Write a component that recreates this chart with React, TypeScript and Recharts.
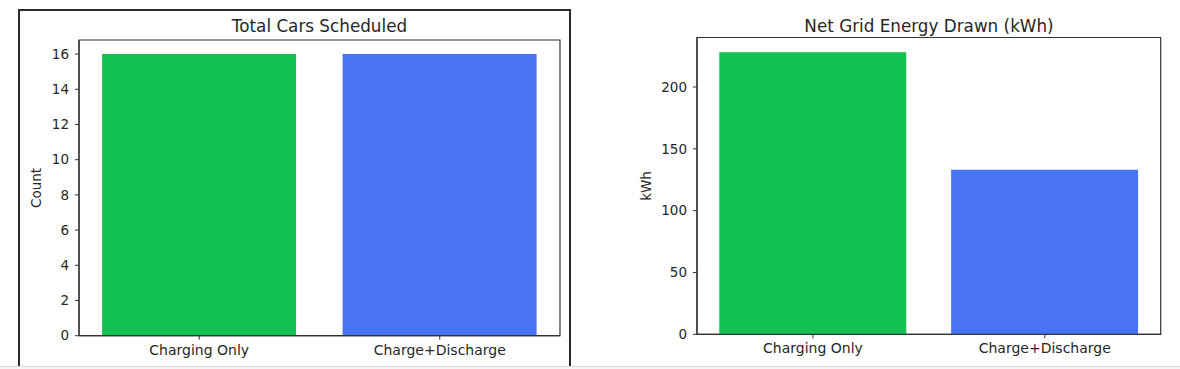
import React from 'react';
import { BarChart, Bar, XAxis, YAxis, Cell, ReferenceArea } from 'recharts';

const categories = ['Charging Only', 'Charge+Discharge'];
const carsScheduled = [16, 16];
const netGridEnergy = [228, 133];
const countTicks = [0, 2, 4, 6, 8, 10, 12, 14, 16];
const kwhTicks = [0, 50, 100, 150, 200];

const barColors = ['#13c152', '#4873f2'];

const carsData = categories.map((name, i) => ({ name, value: carsScheduled[i] }));
const energyData = categories.map((name, i) => ({ name, value: netGridEnergy[i] }));

const FONT = '"DejaVu Sans", sans-serif';
const AXIS = '#333333';
const TEXT = '#262626';

const tickY = { fill: TEXT, fontSize: 13.5 };
const tickX = { fill: TEXT, fontSize: 14 };

function Panel(props: {
  data: { name: string; value: number }[];
  width: number;
  margin: { top: number; right: number; left: number; bottom: number };
  yWidth: number;
  xHeight: number;
  domain: [number, number];
  ticks: number[];
}) {
  const { data, width, margin, yWidth, xHeight, domain, ticks } = props;
  return (
    <BarChart width={width} height={369} data={data} margin={margin} barCategoryGap="9.6%">
      <XAxis
        dataKey="name"
        height={xHeight}
        tickSize={4}
        tickMargin={5}
        tick={tickX}
        interval={0}
        axisLine={{ stroke: AXIS, strokeWidth: 1.2 }}
        tickLine={{ stroke: AXIS }}
      />
      <YAxis
        width={yWidth}
        domain={domain}
        ticks={ticks}
        interval={0}
        tickSize={4}
        tickMargin={6}
        tick={tickY}
        axisLine={{ stroke: AXIS, strokeWidth: 1.2 }}
        tickLine={{ stroke: AXIS }}
      />
      <Bar dataKey="value" isAnimationActive={false}>
        {data.map((d, i) => (
          <Cell key={d.name} fill={barColors[i]} />
        ))}
      </Bar>
      <ReferenceArea
        x1={categories[0]}
        x2={categories[categories.length - 1]}
        y1={domain[0]}
        y2={domain[1]}
        fill="none"
        fillOpacity={0}
        stroke={AXIS}
        strokeWidth={1.2}
        strokeOpacity={1}
        ifOverflow="visible"
      />
    </BarChart>
  );
}

const titleStyle: React.CSSProperties = {
  position: 'absolute',
  top: 16,
  fontSize: 16.8,
  color: TEXT,
  whiteSpace: 'nowrap',
  transform: 'translateX(-50%)',
};

const ylabelStyle: React.CSSProperties = {
  position: 'absolute',
  fontSize: 13.5,
  color: TEXT,
  whiteSpace: 'nowrap',
  transform: 'translate(-50%, -50%) rotate(-90deg)',
};

export default function App() {
  return (
    <div
      style={{
        position: 'absolute',
        left: 0,
        top: 0,
        width: 1180,
        height: 369,
        background: '#ffffff',
        fontFamily: FONT,
        overflow: 'hidden',
      }}
    >
      <div style={{ position: 'absolute', left: 0, top: 0 }}>
        <Panel
          data={carsData}
          width={600}
          margin={{ top: 40, right: 40, left: 0, bottom: 0 }}
          yWidth={79}
          xHeight={33.3}
          domain={[0, 16.8]}
          ticks={countTicks}
        />
      </div>
      <div style={{ position: 'absolute', left: 600, top: 0 }}>
        <Panel
          data={energyData}
          width={580}
          margin={{ top: 37.5, right: 19.3, left: 0, bottom: 0 }}
          yWidth={97}
          xHeight={34.7}
          domain={[0, 240]}
          ticks={kwhTicks}
        />
      </div>
      <div style={{ ...titleStyle, left: 319.5 }}>Total Cars Scheduled</div>
      <div style={{ ...titleStyle, left: 929 }}>Net Grid Energy Drawn (kWh)</div>
      <div style={{ ...ylabelStyle, left: 36, top: 188 }}>Count</div>
      <div style={{ ...ylabelStyle, left: 645.5, top: 186 }}>kWh</div>
      <div
        style={{
          position: 'absolute',
          left: 18,
          top: 9,
          width: 553,
          height: 360,
          boxSizing: 'border-box',
          borderLeft: '2px solid #2b2b2b',
          borderTop: '2px solid #2b2b2b',
          borderRight: '2.5px solid #2b2b2b',
          pointerEvents: 'none',
        }}
      />
      <div
        style={{
          position: 'absolute',
          left: 0,
          top: 366,
          width: 1180,
          height: 3,
          background: '#f5f5f5',
          borderTop: '1px solid #dcdcdc',
          boxSizing: 'border-box',
        }}
      />
    </div>
  );
}
